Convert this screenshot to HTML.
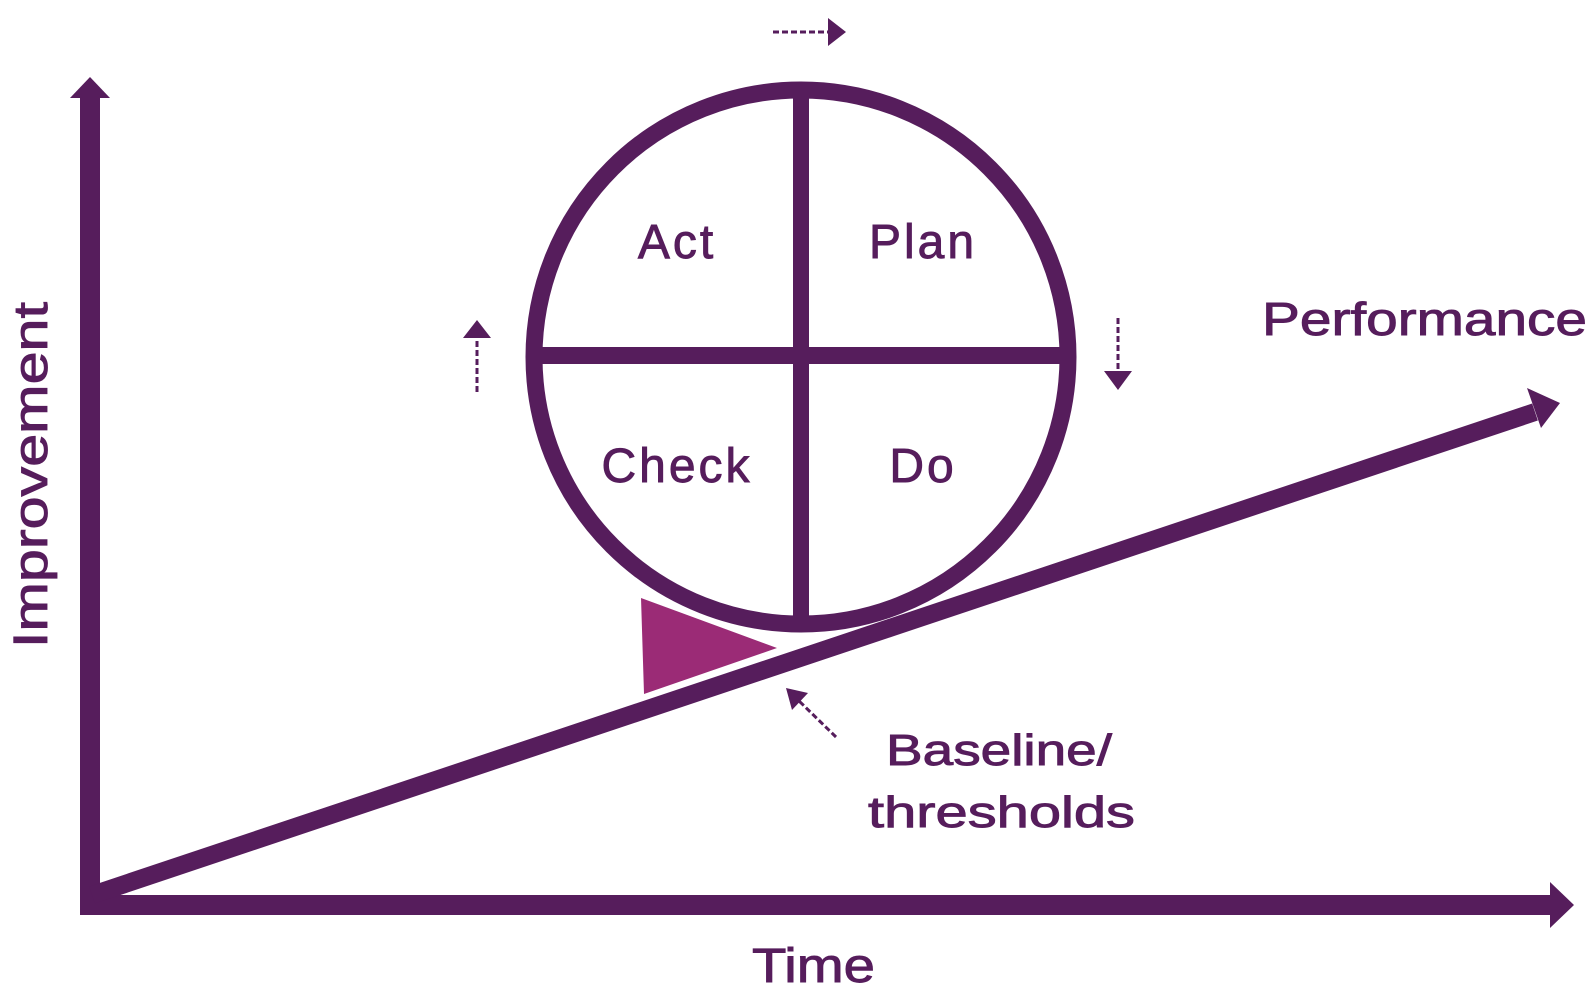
<!DOCTYPE html>
<html><head><meta charset="utf-8"><style>
html,body{margin:0;padding:0;background:#fff;}
svg{display:block;}
text{font-family:"Liberation Sans","DejaVu Sans",sans-serif;fill:#561d5c;stroke:#561d5c;stroke-width:0.9;}
</style></head><body>
<svg width="1594" height="994" viewBox="0 0 1594 994" xmlns="http://www.w3.org/2000/svg">
<g fill="#561d5c" stroke="none">
  <rect x="80" y="92" width="20" height="823"/>
  <polygon points="90,77 110,98 70,98"/>
  <rect x="80" y="895" width="1470" height="20"/>
  <polygon points="1574,905 1550,882 1550,928"/>
</g>
<line x1="92" y1="895" x2="1535" y2="412" stroke="#561d5c" stroke-width="18"/>
<polygon points="1560,403 1527,388 1541,428" fill="#561d5c"/>
<polygon points="641,598 644,694 777,648" fill="#9b2b76"/>
<circle cx="801" cy="357" r="267" fill="none" stroke="#561d5c" stroke-width="17"/>
<rect x="793" y="90" width="16" height="534" fill="#561d5c"/>
<rect x="534" y="347" width="534" height="17" fill="#561d5c"/>
<text x="677" y="258" font-size="48" text-anchor="middle" letter-spacing="3">Act</text>
<text x="923" y="258" font-size="48" text-anchor="middle" letter-spacing="3">Plan</text>
<text x="677" y="482" font-size="48" text-anchor="middle" letter-spacing="3">Check</text>
<text x="923" y="482" font-size="48" text-anchor="middle" letter-spacing="3">Do</text>
<line x1="773" y1="32" x2="830" y2="32" stroke="#561d5c" stroke-width="3" stroke-dasharray="6,3"/>
<polygon points="846,32 828,18 828,46" fill="#561d5c"/>
<line x1="477" y1="392" x2="477" y2="335" stroke="#561d5c" stroke-width="3" stroke-dasharray="6,3"/>
<polygon points="477,320 463,338 491,338" fill="#561d5c"/>
<line x1="1118" y1="318" x2="1118" y2="372" stroke="#561d5c" stroke-width="3" stroke-dasharray="6,3"/>
<polygon points="1118,390 1104,371 1132,371" fill="#561d5c"/>
<line x1="836" y1="737" x2="796" y2="698" stroke="#561d5c" stroke-width="3" stroke-dasharray="6,3"/>
<polygon points="786,688 808,693 792,710" fill="#561d5c"/>
<text x="1262" y="335" font-size="46" textLength="325" lengthAdjust="spacingAndGlyphs">Performance</text>
<text x="886" y="765" font-size="44" textLength="226" lengthAdjust="spacingAndGlyphs">Baseline/</text>
<text x="868" y="827" font-size="44" textLength="267" lengthAdjust="spacingAndGlyphs">thresholds</text>
<text x="752" y="982" font-size="48" textLength="123" lengthAdjust="spacingAndGlyphs">Time</text>
<text transform="translate(47,648) rotate(-90)" font-size="48" textLength="346" lengthAdjust="spacingAndGlyphs">Improvement</text>
</svg>
</body></html>
